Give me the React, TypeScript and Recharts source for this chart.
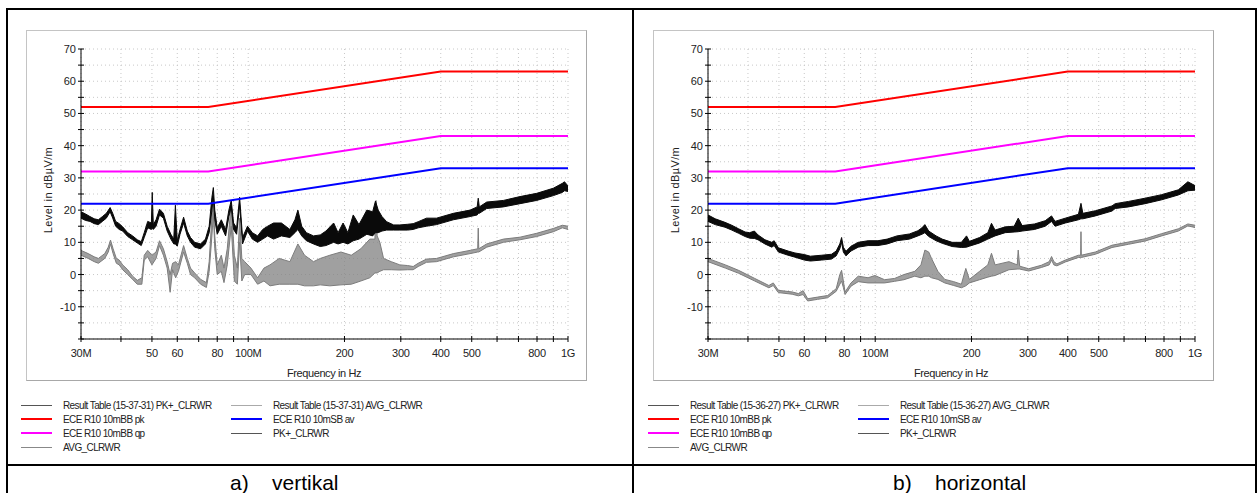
import React from 'react';
import { Area, CartesianGrid, ComposedChart, Line, XAxis, YAxis } from 'recharts';

// limit lines (ECE R10, 10 m) – frequency in MHz
const LIMIT_F = [30, 75, 400, 1000];
const PK_LIMIT = [52, 52, 63, 63];
const QP_LIMIT = [32, 32, 43, 43];
const AV_LIMIT = [22, 22, 33, 33];

const X_TICKS = [30, 40, 50, 60, 70, 80, 90, 100, 200, 300, 400, 500, 600, 700, 800, 900, 1000];
const X_LABELS: Record<number, string> = {
  30: '30M', 50: '50', 60: '60', 80: '80', 100: '100M',
  200: '200', 300: '300', 400: '400', 500: '500', 800: '800', 1000: '1G',
};
const Y_TICKS = [-20, -15, -10, -5, 0, 5, 10, 15, 20, 25, 30, 35, 40, 45, 50, 55, 60, 65, 70];

// traces: [MHz, low, high] in dBµV/m
const VERT_PK = [
  [30, 17.5, 19.5], [31, 16.8, 18.8], [32, 16.5, 18], [33, 15.8, 17.3], [34, 15.5, 17],
  [35, 16.5, 18], [36, 17.5, 19], [37, 19.5, 20.8], [37.7, 17.5, 19], [38.5, 15, 16.5],
  [39.5, 14, 15.8], [40.5, 13.5, 14.8], [42, 11.8, 13], [43.5, 10.8, 12], [45, 9.8, 10.8],
  [46.3, 9, 10.2], [47.3, 11.5, 13], [48.5, 14.5, 16.5], [49.8, 14, 16], [50.1, 14.5, 25.5],
  [50.5, 14, 15.5], [51.5, 15, 17], [52.8, 18.5, 20.3], [54.3, 17.5, 19], [55.8, 13.5, 15],
  [57.3, 11, 12.5], [58.5, 9.5, 11], [59.2, 9.5, 21.5], [60, 8.8, 10.5], [61.2, 12.5, 14],
  [62.8, 16, 17.8], [64.5, 12, 13.5], [66, 10, 11.5], [68, 8.5, 10], [71, 8, 9.5],
  [73.5, 9.5, 11], [75.5, 13, 15], [77, 20, 24], [77.8, 24, 27], [78.6, 17, 20],
  [80, 12.5, 14.5], [82.4, 15, 17], [85, 12, 14], [87, 18, 20], [88.5, 21, 23],
  [90, 14, 16], [92, 12.5, 14.5], [94, 21.5, 24], [96, 9.5, 11.5], [99.5, 13.5, 15],
  [103, 11, 13], [107, 10, 12], [111, 11, 14], [115, 12, 15], [120, 11, 16],
  [127, 12, 16], [135, 11.5, 14], [140, 13, 17], [143, 14, 20], [147, 12, 15],
  [152, 10.5, 13], [160, 9.5, 12], [168, 8.7, 12.3], [175, 9, 13.5], [185, 10, 16],
  [191, 9.5, 13], [198, 10, 16], [205, 9.5, 13], [213, 10.5, 18.5], [222, 11, 15.5],
  [235, 12.5, 20], [245, 12, 19.5], [250, 13, 22.8], [255, 13, 20], [262, 13.5, 18],
  [271, 13.8, 16.4], [285, 13.8, 15.4], [298, 13.8, 15.4], [315, 13.8, 15.6], [328, 14, 15.8],
  [340, 14.5, 16.4], [361, 15, 17.5], [388, 15.5, 17.5], [438, 17, 19], [494, 18, 20],
  [520, 18.5, 21], [524, 19, 23.7], [528, 19, 21], [557, 20.5, 22.5], [628, 21, 23],
  [708, 22, 24.2], [798, 23, 25.2], [900, 24.5, 26.8], [960, 25.5, 28.3], [975, 26, 28.8],
  [1000, 25.8, 27.5],
];

const VERT_AV = [
  [30, 6, 7.5], [31.6, 5, 6.5], [33, 4, 5.5], [34, 3.5, 5], [35.6, 5, 6.5],
  [36.5, 7, 8.5], [37.1, 9.5, 10.7], [37.8, 6.5, 8], [38.7, 3.5, 5], [39.5, 3, 4.5],
  [40.5, 1.5, 3], [42, 0, 1.5], [43.5, -1.5, -0.5], [45, -3, -1.8], [46.5, -3, -1],
  [47.3, 4.5, 6], [48.5, 5.5, 7.5], [50, 3, 6], [51.5, 5, 7], [52.8, 9, 10.5],
  [54.3, 6, 8], [55.8, 2, 4], [57, -5.5, 0], [58, 1.5, 3.5], [59.3, -1, 4],
  [60.5, 1, 3], [62.8, 7, 9], [64.5, 3.5, 5], [66, 0, 2], [68, -1, 0.5],
  [71, -3, -1.5], [74, -4, -2.5], [75.5, 1, 4], [77, 12, 18], [77.8, 19, 22],
  [78.6, 8, 12], [80, 0, 3], [82.4, 1, 6], [84, -2.5, 2], [86, 3, 8],
  [88.5, 15, 22], [90.5, -2, 6], [92.5, -3, 2], [94, 10, 17.5], [95.5, -2, 5],
  [97.5, 0, 4], [102, 0, 2], [107, -3, -1], [112, -2, 2], [117, -3.5, 3],
  [125, -3, 5], [135, -3, 4], [143, -3, 9.5], [150, -3.5, 6], [160, -3.5, 4],
  [168, -3.2, 5], [180, -3.5, 6], [195, -3.2, 7], [210, -3, 6], [225, -2, 8],
  [240, -1, 11], [249, 0.5, 11], [251, 0.5, 23], [253, 0.5, 12], [258, 1, 10],
  [265, 1.5, 5], [280, 1.5, 4], [298, 1.4, 3], [315, 1.5, 2.8], [328, 1.5, 2.5],
  [340, 2.5, 3.5], [361, 3.8, 4.8], [388, 4, 5], [438, 5.5, 6.5], [494, 6.5, 7.5],
  [522, 7, 8], [524, 7, 14.4], [526, 7, 8], [557, 8.5, 9.5], [628, 10, 11],
  [708, 10.8, 11.6], [798, 11.8, 12.8], [900, 13.3, 14.3], [960, 14.5, 15.3], [1000, 14, 15],
];

const HORZ_PK = [
  [30, 16.5, 18.5], [31.6, 15.5, 17.3], [33.9, 14.7, 16.2], [35.6, 13.8, 15.3], [37.4, 12.8, 14.2],
  [39.2, 11.8, 13.2], [40.5, 11.3, 13], [41.9, 11.2, 13.5], [43, 10.8, 12.3], [45.2, 9.5, 10.8],
  [47.5, 8.5, 10], [48.3, 9, 10.5], [49.8, 7, 8.3], [53.4, 6, 7.3], [56.1, 5.4, 6.7],
  [60, 4.5, 6.2], [62.7, 4.2, 5.7], [68, 4.5, 6], [73, 4.8, 6.3], [75.5, 5.8, 7.3],
  [77.5, 8, 9.5], [78.5, 10, 11.5], [79.5, 7, 8.5], [81, 5.8, 7.2], [84, 7.3, 8.8],
  [88.5, 8.5, 10], [95, 9, 10.5], [102, 9, 10.5], [109, 9.5, 11], [117, 10.5, 12],
  [128, 11, 12.6], [136, 12, 13.6], [140, 12.5, 14.5], [143, 13, 15.5], [147, 11.8, 13.5],
  [155, 10.5, 12], [162, 9.7, 11], [174, 8.7, 10], [186, 8.4, 10], [193, 8.5, 12],
  [197, 8.8, 10.3], [212, 9.8, 11.5], [225, 11, 13], [231, 11.5, 15.9], [237, 12, 13.8],
  [255, 13, 14.8], [272, 13.2, 15], [280, 13.3, 17.5], [288, 13.5, 15.2], [315, 14, 15.7],
  [340, 15, 16.7], [356, 16.5, 18.2], [365, 15, 16.5], [393, 16, 17.5], [432, 17, 18.7],
  [440, 17.3, 22.1], [446, 17.3, 19], [488, 18.2, 19.8], [550, 19.7, 21.3], [563, 20.5, 22],
  [620, 21, 22.7], [698, 22, 23.7], [787, 23.2, 24.8], [887, 24.7, 26.3], [950, 26, 28.8],
  [1000, 26.2, 27.6],
];

const HORZ_AV = [
  [30, 4, 5], [34, 2, 3], [37.4, 0.4, 1.3], [42, -2, -1.2], [46.5, -4.1, -3.4],
  [48, -3.4, -2.6], [49.8, -5.6, -4.9], [55, -6.1, -5.4], [57.5, -6.6, -5.9], [59.5, -6.2, -5],
  [61.5, -8.2, -7.5], [66, -7.7, -7], [71, -7.2, -6.5], [75.5, -5.2, -4.4], [77.5, -3, 0],
  [78.5, -2, 1.3], [79.5, -4, -2], [80.5, -6.2, -5.4], [84, -3.6, -2.6], [88.5, -2.2, -0.5],
  [95, -2.6, -1], [99.8, -2.6, -0.3], [107, -2.6, -1.6], [115, -2.1, -1.2], [123, -1.6, 0],
  [133, -0.5, 1], [139, -1, 3], [143, -0.5, 7.6], [147, -0.5, 7], [150, -1, 5],
  [157, -1.5, 1], [165, -2.6, -1.5], [176, -3.4, -2.2], [186, -4.1, -3], [192, -3.5, 1.9],
  [197, -2.6, -1.5], [212, -1.6, 1], [225, -0.8, 3], [231, -0.5, 6.6], [237, -0.3, 3],
  [262, 1.5, 4], [278, 1.7, 3], [280, 1.7, 7.6], [283, 1.7, 2.6], [302, 1.1, 1.8],
  [331, 2.2, 2.9], [350, 3, 4], [356, 4.5, 5.6], [362, 3, 4], [370, 2.7, 3.3],
  [393, 3.9, 4.5], [432, 5.3, 6], [439, 5.3, 6], [440, 5.3, 13.3], [441, 5.3, 6],
  [488, 6.3, 7], [550, 8.4, 9.1], [620, 9.4, 10.1], [698, 10.4, 11.1], [787, 12, 12.7],
  [887, 13.5, 14.2], [950, 15.1, 15.7], [1000, 14.6, 15.3],
];

const limitRows = LIMIT_F.map((f, i) => ({ f, pk: PK_LIMIT[i], qp: QP_LIMIT[i], av: AV_LIMIT[i] }));
const toBand = (rows: number[][]) => rows.map(([f, lo, hi]) => ({ f, band: [lo, hi] }));

const FONT = 'Arial, "Liberation Sans", sans-serif';
const CHART_W = 561;
const CHART_H = 351;
const PLOT_L = 55;
const PLOT_T = 19;
const PLOT_B = PLOT_T + 290;

const YTick = ({ y, payload }: any) => {
  const v = payload.value;
  return (
    <g>
      <line x1={PLOT_L - 3} x2={PLOT_L + 3} y1={y} y2={y} stroke="#000" />
      {v % 10 === 0 && v > -20 && (
        <text x={PLOT_L - 5} y={y + 4} textAnchor="end" fontSize={11} fill="#222" fontFamily={FONT}>
          {v}
        </text>
      )}
    </g>
  );
};

const XTick = ({ x, payload }: any) => (
  <g>
    <line x1={x} x2={x} y1={PLOT_B - 3} y2={PLOT_B + 3} stroke="#000" />
    <text x={x} y={PLOT_B + 18} textAnchor="middle" fontSize={11} fill="#222" fontFamily={FONT} letterSpacing={-0.3}>
      {X_LABELS[payload.value] ?? ''}
    </text>
  </g>
);

const LegendRow = ({ x, y, color, width, text }: any) => (
  <div style={{ position: 'absolute', left: x, top: y - 7, height: 14, display: 'flex', alignItems: 'center' }}>
    <div style={{ width: 31, height: width, background: color }} />
    <div style={{ marginLeft: 11, fontSize: 10, letterSpacing: -0.6, color: '#222', whiteSpace: 'nowrap' }}>{text}</div>
  </div>
);

const Panel = ({ left, pk, av, stamp, tag, caption, capX, capGap }: any) => {
  const pkBand = toBand(pk);
  const avBand = toBand(av);
  return (
    <>
      <div
        style={{
          position: 'absolute', left, top: 30, width: CHART_W - 2, height: CHART_H - 2,
          border: '1px solid #c4c4c4', borderRightColor: '#a8a8a8', borderBottomColor: '#a8a8a8',
        }}
      />
      <div style={{ position: 'absolute', left, top: 30 }}>
        <ComposedChart width={CHART_W} height={CHART_H} margin={{ top: PLOT_T, right: 19, left: 0, bottom: 0 }}>
          <CartesianGrid stroke="#c8c8c8" strokeDasharray="1 3" />
          <XAxis
            dataKey="f" type="number" scale="log" domain={[30, 1000]} allowDataOverflow
            ticks={X_TICKS} interval={0} height={42} tickLine={false}
            axisLine={{ stroke: '#000' }} tick={<XTick />}
          />
          <YAxis
            type="number" domain={[-20, 70]} ticks={Y_TICKS} interval={0} width={PLOT_L}
            tickLine={false} axisLine={{ stroke: '#000' }} tick={<YTick />}
          />
          <Area data={avBand} dataKey="band" type="linear" stroke="#7c7c7c" strokeWidth={1}
            fill="#808080" fillOpacity={0.75} dot={false} activeDot={false} isAnimationActive={false} />
          <Area data={pkBand} dataKey="band" type="linear" stroke="#0a0a0a" strokeWidth={1}
            fill="#0a0a0a" fillOpacity={1} dot={false} activeDot={false} isAnimationActive={false} />
          <Line data={limitRows} dataKey="pk" type="linear" stroke="#ff0000" strokeWidth={2} dot={false} isAnimationActive={false} />
          <Line data={limitRows} dataKey="qp" type="linear" stroke="#ff00ff" strokeWidth={2} dot={false} isAnimationActive={false} />
          <Line data={limitRows} dataKey="av" type="linear" stroke="#0000ff" strokeWidth={2} dot={false} isAnimationActive={false} />
        </ComposedChart>
      </div>
      <div
        style={{
          position: 'absolute', left: left + 22, top: 190, transform: 'translate(-50%, -50%) rotate(-90deg)',
          fontSize: 11, color: '#222', whiteSpace: 'nowrap', letterSpacing: 0.4,
        }}
      >
        Level in dBµV/m
      </div>
      <div
        style={{
          position: 'absolute', left: left + PLOT_L + 243, top: 373, transform: 'translate(-50%, -50%)',
          fontSize: 11, color: '#222', whiteSpace: 'nowrap', letterSpacing: -0.4,
        }}
      >
        Frequency in Hz
      </div>
      <LegendRow x={left - 5} y={405} color="#555" width={1} text={`Result Table (${stamp}) PK+_CLRWR`} />
      <LegendRow x={left - 5} y={419} color="#ff0000" width={2} text="ECE R10 10mBB pk" />
      <LegendRow x={left - 5} y={433} color="#ff00ff" width={2} text="ECE R10 10mBB qp" />
      <LegendRow x={left - 5} y={447} color="#888" width={1} text="AVG_CLRWR" />
      <LegendRow x={left + 205} y={405} color="#aaa" width={1} text={`Result Table (${stamp}) AVG_CLRWR`} />
      <LegendRow x={left + 205} y={419} color="#0000ff" width={2} text="ECE R10 10mSB av" />
      <LegendRow x={left + 205} y={433} color="#555" width={1} text="PK+_CLRWR" />
      <div style={{ position: 'absolute', left: capX, top: 473, fontSize: 21, lineHeight: '20px', color: '#000' }}>{tag}</div>
      <div style={{ position: 'absolute', left: capX + capGap, top: 473, fontSize: 21, lineHeight: '20px', color: '#000' }}>{caption}</div>
    </>
  );
};

export default function App() {
  const rule = '#000';
  return (
    <div style={{ position: 'absolute', left: 0, top: 0, width: 1258, height: 493, background: '#fff', fontFamily: FONT, overflow: 'hidden' }}>
      {/* table frame */}
      <div style={{ position: 'absolute', left: 6, top: 8, width: 1251, height: 2, background: rule }} />
      <div style={{ position: 'absolute', left: 6, top: 464, width: 1251, height: 2, background: rule }} />
      <div style={{ position: 'absolute', left: 6, top: 8, width: 2, height: 485, background: rule }} />
      <div style={{ position: 'absolute', left: 632, top: 8, width: 2, height: 485, background: rule }} />
      <div style={{ position: 'absolute', left: 1255, top: 8, width: 2, height: 485, background: rule }} />
      <Panel left={26} pk={VERT_PK} av={VERT_AV} stamp="15-37-31" tag="a)" caption="vertikal" capX={230} capGap={42} />
      <Panel left={653} pk={HORZ_PK} av={HORZ_AV} stamp="15-36-27" tag="b)" caption="horizontal" capX={893} capGap={42} />
    </div>
  );
}
